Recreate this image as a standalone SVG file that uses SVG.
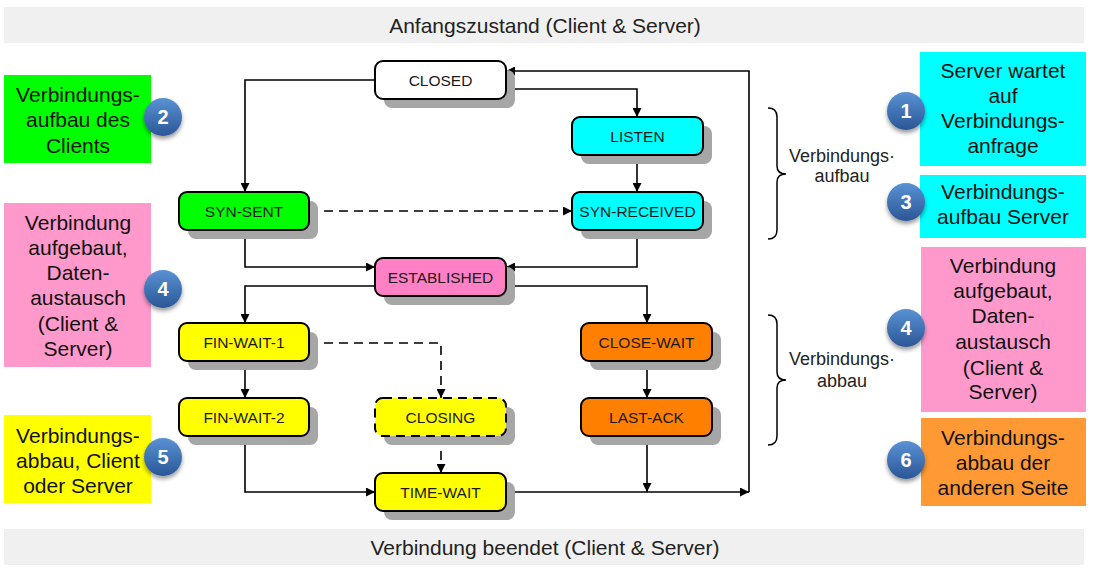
<svg xmlns="http://www.w3.org/2000/svg" width="1093" height="571" viewBox="0 0 1093 571">
<style>
text{font-family:"Liberation Sans",Arial,sans-serif;fill:#1a1a1a}
.banner{fill:#f0f0f0}
.bt{font-size:21px;text-anchor:middle;fill:#222}
.sh{fill:#a6a6a6}
.nd{stroke:#000;stroke-width:2}
.nt{font-size:15.5px;text-anchor:middle}
.an{font-size:21px;text-anchor:middle;fill:#111}
.br{fill:none;stroke:#000;stroke-width:1.5}
.brt{font-size:18px;text-anchor:middle;fill:#222}
.c{fill:none;stroke:#000;stroke-width:1.6}
.d{stroke-dasharray:9,6}
.bn{font-size:20px;font-weight:bold;text-anchor:middle;fill:#fff}
</style>
<defs>
<marker id="ah" markerUnits="userSpaceOnUse" markerWidth="10" markerHeight="9" refX="9" refY="4.5" orient="auto"><path d="M0,0 L9,4.5 L0,9 z" fill="#000"/></marker>
<linearGradient id="bg" x1="0" y1="0" x2="0" y2="1"><stop offset="0" stop-color="#5a92d4"/><stop offset="1" stop-color="#2a5696"/></linearGradient>
<filter id="ds" x="-40%" y="-40%" width="180%" height="190%"><feDropShadow dx="0" dy="3" stdDeviation="2" flood-color="#000" flood-opacity="0.4"/></filter>
</defs>

<g id="banner-top"><rect class="banner" x="4" y="7" width="1080" height="36"/><text class="bt" x="545" y="33">Anfangszustand (Client &amp; Server)</text></g>
<g id="banner-bottom"><rect class="banner" x="4" y="529" width="1080" height="36"/><text class="bt" x="545" y="555">Verbindung beendet (Client &amp; Server)</text></g>

<g id="connectors">
<path class="c" d="M375,80 H245 V192" marker-end="url(#ah)"/>
<path class="c" d="M506,89 H637 V117" marker-end="url(#ah)"/>
<path class="c" d="M637,155 V192" marker-end="url(#ah)"/>
<path class="c d" d="M309,211 H572" marker-end="url(#ah)"/>
<path class="c" d="M245,230 V267 H375" marker-end="url(#ah)"/>
<path class="c" d="M637,230 V267 H506" marker-end="url(#ah)"/>
<path class="c" d="M375,286 H245 V323" marker-end="url(#ah)"/>
<path class="c" d="M506,286 H647 V323" marker-end="url(#ah)"/>
<path class="c" d="M245,361 V398" marker-end="url(#ah)"/>
<path class="c d" d="M309,343 H441 V398" marker-end="url(#ah)"/>
<path class="c d" d="M441,436 V473" marker-end="url(#ah)"/>
<path class="c" d="M245,436 V492 H375" marker-end="url(#ah)"/>
<path class="c" d="M647,361 V398" marker-end="url(#ah)"/>
<path class="c" d="M647,436 V492" marker-end="url(#ah)"/>
<path class="c" d="M506,492 H749" marker-end="url(#ah)"/>
<path class="c" d="M749,492 V71 H506" marker-end="url(#ah)"/>
</g>

<g id="n-closed"><rect class="sh" x="384" y="70" width="131" height="38" rx="8"/><rect class="nd" x="375" y="61" width="131" height="38" rx="8" fill="#fff"/><text class="nt" x="440.5" y="85.5">CLOSED</text></g>
<g id="n-listen"><rect class="sh" x="581" y="126" width="131" height="38" rx="8"/><rect class="nd" x="572" y="117" width="131" height="38" rx="8" fill="#00ffff"/><text class="nt" x="637.5" y="141.5">LISTEN</text></g>
<g id="n-synsent"><rect class="sh" x="188" y="201" width="130" height="38" rx="8"/><rect class="nd" x="179" y="192" width="130" height="38" rx="8" fill="#00ff00"/><text class="nt" x="244" y="216.5">SYN-SENT</text></g>
<g id="n-synrcvd"><rect class="sh" x="581" y="201" width="131" height="38" rx="8"/><rect class="nd" x="572" y="192" width="131" height="38" rx="8" fill="#00ffff"/><text class="nt" x="637.5" y="216.5">SYN-RECEIVED</text></g>
<g id="n-established"><rect class="sh" x="384" y="267" width="131" height="38" rx="8"/><rect class="nd" x="375" y="258" width="131" height="38" rx="8" fill="#ff80c4"/><text class="nt" x="440.5" y="282.5">ESTABLISHED</text></g>
<g id="n-finwait1"><rect class="sh" x="188" y="332" width="130" height="38" rx="8"/><rect class="nd" x="179" y="323" width="130" height="38" rx="8" fill="#ffff00"/><text class="nt" x="244" y="347.5">FIN-WAIT-1</text></g>
<g id="n-finwait2"><rect class="sh" x="188" y="407" width="130" height="38" rx="8"/><rect class="nd" x="179" y="398" width="130" height="38" rx="8" fill="#ffff00"/><text class="nt" x="244" y="422.5">FIN-WAIT-2</text></g>
<g id="n-closing"><rect class="sh" x="384" y="407" width="131" height="38" rx="8"/><rect class="nd d" x="375" y="398" width="131" height="38" rx="8" fill="#ffff00"/><text class="nt" x="440.5" y="422.5">CLOSING</text></g>
<g id="n-timewait"><rect class="sh" x="384" y="482" width="131" height="38" rx="8"/><rect class="nd" x="375" y="473" width="131" height="38" rx="8" fill="#ffff00"/><text class="nt" x="440.5" y="497.5">TIME-WAIT</text></g>
<g id="n-closewait"><rect class="sh" x="590" y="332" width="131" height="38" rx="8"/><rect class="nd" x="581" y="323" width="131" height="38" rx="8" fill="#ff8000"/><text class="nt" x="646.5" y="347.5">CLOSE-WAIT</text></g>
<g id="n-lastack"><rect class="sh" x="590" y="407" width="131" height="38" rx="8"/><rect class="nd" x="581" y="398" width="131" height="38" rx="8" fill="#ff8000"/><text class="nt" x="646.5" y="422.5">LAST-ACK</text></g>

<g id="a-2"><rect x="4" y="75" width="147" height="88" fill="#00ff00"/><text class="an" x="78" y="102">Verbindungs-</text><text class="an" x="78" y="127">aufbau des</text><text class="an" x="78" y="153">Clients</text><circle cx="163" cy="117" r="19" fill="url(#bg)" filter="url(#ds)"/><text class="bn" x="163" y="124">2</text></g>
<g id="a-4l"><rect x="4" y="203" width="147" height="164" fill="#ff99cc"/><text class="an" x="78" y="230">Verbindung</text><text class="an" x="78" y="255">aufgebaut,</text><text class="an" x="78" y="280">Daten-</text><text class="an" x="78" y="305">austausch</text><text class="an" x="78" y="331">(Client &amp;</text><text class="an" x="78" y="356">Server)</text><circle cx="163" cy="289" r="19" fill="url(#bg)" filter="url(#ds)"/><text class="bn" x="163" y="296">4</text></g>
<g id="a-5"><rect x="4" y="415" width="147" height="88" fill="#ffff00"/><text class="an" x="78" y="443">Verbindungs-</text><text class="an" x="78" y="468">abbau, Client</text><text class="an" x="78" y="493">oder Server</text><circle cx="163" cy="457" r="19" fill="url(#bg)" filter="url(#ds)"/><text class="bn" x="163" y="464">5</text></g>

<g id="a-1"><rect x="920" y="52" width="166" height="114" fill="#00ffff"/><text class="an" x="1003" y="78">Server wartet</text><text class="an" x="1003" y="103">auf</text><text class="an" x="1003" y="128">Verbindungs-</text><text class="an" x="1003" y="153">anfrage</text><circle cx="906" cy="111" r="19" fill="url(#bg)" filter="url(#ds)"/><text class="bn" x="906" y="118">1</text></g>
<g id="a-3"><rect x="920" y="175" width="166" height="63" fill="#00ffff"/><text class="an" x="1003" y="199">Verbindungs-</text><text class="an" x="1003" y="224">aufbau Server</text><circle cx="906" cy="202" r="19" fill="url(#bg)" filter="url(#ds)"/><text class="bn" x="906" y="209">3</text></g>
<g id="a-4r"><rect x="921" y="247" width="165" height="165" fill="#ff99cc"/><text class="an" x="1003" y="273">Verbindung</text><text class="an" x="1003" y="298">aufgebaut,</text><text class="an" x="1003" y="323">Daten-</text><text class="an" x="1003" y="349">austausch</text><text class="an" x="1003" y="375">(Client &amp;</text><text class="an" x="1003" y="399">Server)</text><circle cx="906" cy="328" r="19" fill="url(#bg)" filter="url(#ds)"/><text class="bn" x="906" y="335">4</text></g>
<g id="a-6"><rect x="921" y="418" width="165" height="88" fill="#ff9933"/><text class="an" x="1003" y="445">Verbindungs-</text><text class="an" x="1003" y="470">abbau der</text><text class="an" x="1003" y="495">anderen Seite</text><circle cx="906" cy="460" r="19" fill="url(#bg)" filter="url(#ds)"/><text class="bn" x="906" y="467">6</text></g>

<g id="brace-aufbau"><path class="br" d="M768,108 Q777,108 777,117 L777,166 Q777,174 786,174 Q777,174 777,182 L777,230 Q777,239 768,239"/><text class="brt" x="842" y="162">Verbindungs·</text><text class="brt" x="842" y="182">aufbau</text></g>
<g id="brace-abbau"><path class="br" d="M768,315 Q777,315 777,324 L777,372 Q777,380 786,380 Q777,380 777,388 L777,436 Q777,445 768,445"/><text class="brt" x="842" y="365">Verbindungs·</text><text class="brt" x="842" y="387">abbau</text></g>
</svg>
